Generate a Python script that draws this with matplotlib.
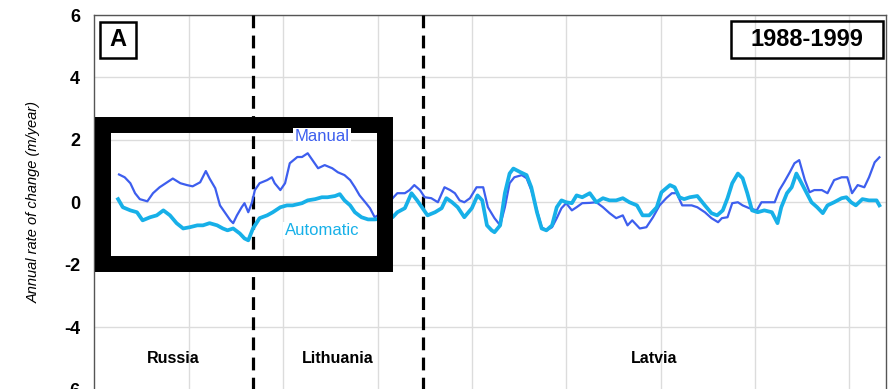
import matplotlib.pyplot as plt
from matplotlib.patches import Rectangle

# Distance along the coast (arbitrary units) and annual rate of change (m/year)
manual_x = [26, 32, 38, 43, 48, 56, 62, 69, 77, 83, 91, 98, 104, 112, 118, 122, 128, 133, 138, 144,
            147, 151, 156, 159, 163, 167, 170, 175, 183, 188, 191, 197, 202, 207, 215, 220, 226, 231,
            237, 244, 252, 258, 265, 271, 276, 281, 287, 292, 297, 307, 316, 321, 329, 334, 339, 345,
            350, 357, 364, 371, 377, 382, 387, 392, 398, 405, 412, 417, 424, 430, 435, 440, 445, 453,
            458, 463, 469, 474, 479, 485, 490, 495, 500, 506, 511, 517, 525, 532, 539, 546, 553, 560,
            565, 570, 578, 585, 592, 599, 606, 612, 617, 623, 633, 639, 647, 654, 661, 665, 671, 676,
            682, 687, 694, 702, 707, 713, 721, 726, 731, 737, 742, 747, 753, 758, 763, 771, 777, 784,
            792, 798, 803, 809, 816, 821, 827, 832]
manual_y = [0.89, 0.80, 0.61, 0.29, 0.10, 0.03, 0.29, 0.48, 0.64, 0.76, 0.61, 0.55, 0.51, 0.64, 1.00,
            0.76, 0.45, -0.10, -0.32, -0.58, -0.67, -0.42, -0.16, -0.03, -0.32, 0.00, 0.39, 0.61,
            0.71, 0.80, 0.61, 0.39, 0.61, 1.25, 1.45, 1.45, 1.57, 1.35, 1.09, 1.19, 1.09, 0.96, 0.87,
            0.71, 0.48, 0.22, 0.00, -0.19, -0.48, -0.30, 0.13, 0.29, 0.29, 0.39, 0.55, 0.39, 0.16,
            0.13, 0.00, 0.48, 0.39, 0.29, 0.06, 0.00, 0.13, 0.48, 0.48, -0.16, -0.51, -0.74, -0.16,
            0.61, 0.80, 0.87, 0.77, 0.39, -0.26, -0.80, -0.90, -0.80, -0.51, -0.19, -0.03, -0.26,
            -0.16, -0.03, -0.02, 0.00, -0.16, -0.35, -0.51, -0.42, -0.74, -0.58, -0.84, -0.80, -0.48,
            -0.10, 0.13, 0.29, 0.29, -0.10, -0.10, -0.16, -0.32, -0.51, -0.64, -0.51, -0.48, -0.03,
            0.00, -0.10, -0.19, -0.26, 0.00, 0.00, 0.00, 0.39, 0.64, 0.96, 1.25, 1.35, 0.71, 0.32,
            0.39, 0.39, 0.29, 0.71, 0.80, 0.80, 0.29, 0.55, 0.48, 0.80, 1.28, 1.44]

auto_x = [25, 30, 38, 45, 51, 59, 66, 73, 80, 87, 94, 101, 109, 115, 122, 130, 136, 141, 147, 154,
          159, 163, 168, 175, 183, 189, 197, 204, 210, 220, 226, 234, 241, 247, 255, 260, 265, 271,
          276, 283, 290, 297, 307, 316, 321, 329, 336, 342, 347, 353, 361, 368, 373, 379, 385, 392,
          400, 406, 411, 416, 421, 424, 430, 435, 440, 444, 451, 458, 463, 469, 474, 479, 485, 490,
          495, 500, 506, 511, 517, 525, 532, 539, 546, 553, 560, 567, 575, 581, 588, 596, 601, 610,
          615, 620, 625, 631, 639, 647, 654, 660, 666, 671, 676, 682, 687, 692, 697, 703, 710, 718,
          724, 728, 734, 739, 744, 749, 755, 760, 766, 772, 777, 784, 792, 797, 802, 807, 814, 821,
          829, 832]
auto_y = [0.10, -0.16, -0.26, -0.32, -0.58, -0.48, -0.42, -0.26, -0.42, -0.67, -0.84, -0.80, -0.74,
          -0.74, -0.67, -0.74, -0.84, -0.90, -0.84, -1.00, -1.16, -1.22, -0.84, -0.51, -0.42, -0.32,
          -0.16, -0.10, -0.10, -0.03, 0.06, 0.10, 0.16, 0.16, 0.20, 0.26, 0.06, -0.10, -0.32, -0.48,
          -0.55, -0.55, -0.52, -0.48, -0.32, -0.19, 0.29, 0.06, -0.16, -0.42, -0.32, -0.19, 0.13,
          0.00, -0.16, -0.48, -0.19, 0.22, 0.06, -0.74, -0.90, -0.96, -0.74, 0.29, 0.92, 1.08, 0.97,
          0.87, 0.48, -0.32, -0.84, -0.90, -0.74, -0.16, 0.06, 0.00, -0.03, 0.22, 0.16, 0.29, 0.00,
          0.13, 0.06, 0.06, 0.13, 0.00, -0.10, -0.42, -0.42, -0.16, 0.32, 0.55, 0.48, 0.16, 0.10,
          0.16, 0.20, -0.10, -0.35, -0.42, -0.26, 0.13, 0.61, 0.92, 0.77, 0.29, -0.26, -0.32, -0.26,
          -0.32, -0.67, -0.16, 0.29, 0.48, 0.92, 0.64, 0.29, 0.00, -0.16, -0.35, -0.10, 0.00, 0.13,
          0.16, 0.00, -0.10, 0.10, 0.06, 0.06, -0.10]

borders = [168, 348]
regions = ['Russia', 'Lithuania', 'Latvia']
region_x = [84, 258, 593]
y_ticks = [-6, -4, -2, 0, 2, 4, 6]

MANUAL_COLOR = '#3d5eee'
AUTO_COLOR = '#17b0e8'

plt.rcParams['font.family'] = ['Liberation Sans', 'DejaVu Sans']

fig = plt.figure(figsize=(8.95, 3.89), dpi=100)
ax = fig.add_axes([94.5 / 895, -0.5 / 389, 791.5 / 895, 374.5 / 389])

ax.set_xlim(0, 839)
ax.set_ylim(-6, 6)
ax.set_xticks(range(100, 839, 100))
ax.set_yticks(y_ticks)
ax.set_yticklabels([str(t) for t in y_ticks], fontsize=13, fontweight='bold')
ax.tick_params(axis='x', labelbottom=False, length=0)
ax.tick_params(axis='y', length=0, pad=10.5)
ax.grid(True, color='#dcdcdc', linewidth=1.0)
ax.set_axisbelow(True)
for side in ['top', 'left', 'right', 'bottom']:
    ax.spines[side].set_color('#555555')
    ax.spines[side].set_linewidth(1.0)

# Country borders
for bx in borders:
    ax.axvline(bx, color='black', linewidth=2.3, dashes=(4, 2.3), zorder=3)

# Series
ax.plot(manual_x, manual_y, color=MANUAL_COLOR, linewidth=1.6, zorder=4)
ax.plot(auto_x, auto_y, color=AUTO_COLOR, linewidth=2.7, zorder=5)

# Highlight box
ax.add_patch(Rectangle((8.5, -1.99), 299.2, 4.46, fill=False, edgecolor='black',
                       linewidth=11.5, joinstyle='miter', zorder=6))

ax.text(241, 2.1, 'Manual', color=MANUAL_COLOR, fontsize=12, ha='center', va='center',
        bbox=dict(facecolor='white', edgecolor='none', pad=1), zorder=7)
ax.text(241, -0.9, 'Automatic', color=AUTO_COLOR, fontsize=12, ha='center', va='center',
        bbox=dict(facecolor='white', edgecolor='none', pad=1), zorder=7)

for name, rx in zip(regions, region_x):
    ax.text(rx, -5.0, name, fontsize=11.5, fontweight='bold', ha='center', va='center')

# Panel letter and period boxes (axes fraction)
ax.add_patch(Rectangle(((100 - 94.5) / 791.5, (389 - 57) / 374.5), 36 / 791.5, 35 / 374.5,
                       transform=ax.transAxes, fill=False, edgecolor='black', linewidth=1.8, zorder=8))
ax.text((118 - 94.5) / 791.5, (389 - 39.5) / 374.5, 'A', transform=ax.transAxes, fontsize=17,
        fontweight='bold', ha='center', va='center', zorder=9)
ax.add_patch(Rectangle(((731 - 94.5) / 791.5, (389 - 57) / 374.5), 152 / 791.5, 36 / 374.5,
                       transform=ax.transAxes, fill=False, edgecolor='black', linewidth=1.8, zorder=8))
ax.text((807 - 94.5) / 791.5, (389 - 39) / 374.5, '1988-1999', transform=ax.transAxes, fontsize=17,
        fontweight='bold', ha='center', va='center', zorder=9)

ax.set_ylabel('Annual rate of change (m/year)', fontsize=10.5, fontstyle='italic')
ax.yaxis.set_label_coords(-(94.5 - 41) / 791.5, 0.5)

fig.savefig('out.png', dpi=100)
